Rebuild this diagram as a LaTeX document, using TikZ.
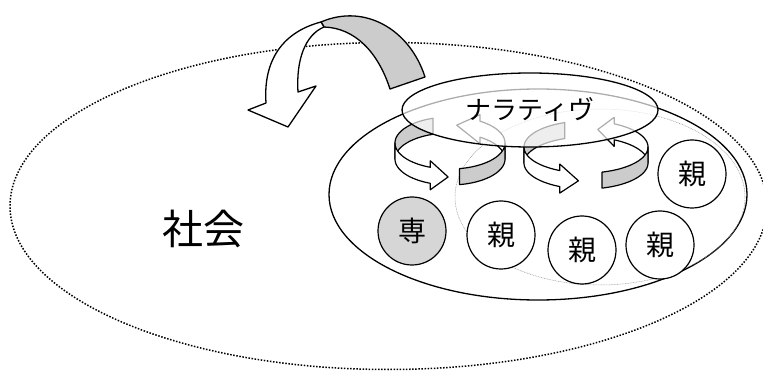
\documentclass[tikz,border=0pt]{standalone}
\usepackage{fontspec}
\newfontfamily\jp{Noto Sans CJK JP}
\usetikzlibrary{shapes.geometric}
\definecolor{bandfill}{gray}{0.80}
\definecolor{profill}{gray}{0.84}
% ring arrow: #1,#2 centre; #3 horizontal radius; #4 tail of front arrow (back side);
% #5 head base, #6 tip of front arrow; #7 tail of back arrow (front side); #8 head base, #9 tip of back arrow
\newcommand{\RingArrow}[9]{%
\begin{scope}[shift={(#1,#2)}]
 \filldraw[bandgray] plot[domain=#4:180,samples=30,variable=\t] ({#3*cos(\t)},{26*sin(\t)})
   -- plot[domain=180:#4,samples=30,variable=\t] ({#3*cos(\t)},{26*sin(\t)+16}) -- cycle;
 \filldraw[bandwhite] plot[domain=360:#8,samples=30,variable=\t] ({#3*cos(\t)},{26*sin(\t)})
   -- ({#3*cos(#8)},{26*sin(#8)-6.5}) -- ({#3*cos(#9)},{26*sin(#9)+8})
   -- ({#3*cos(#8)},{26*sin(#8)+22.5})
   -- plot[domain=#8:360,samples=30,variable=\t] ({#3*cos(\t)},{26*sin(\t)+16}) -- cycle;
 \filldraw[bandwhite] plot[domain=180:#5,samples=30,variable=\t] ({#3*cos(\t)},{26*sin(\t)})
   -- ({#3*cos(#5)},{26*sin(#5)-6.5}) -- ({#3*cos(#6)},{26*sin(#6)+8})
   -- ({#3*cos(#5)},{26*sin(#5)+22.5})
   -- plot[domain=#5:180,samples=30,variable=\t] ({#3*cos(\t)},{26*sin(\t)+16}) -- cycle;
 \filldraw[bandgray] plot[domain=#7:0,samples=30,variable=\t] ({#3*cos(\t)},{26*sin(\t)})
   -- plot[domain=0:#7,samples=30,variable=\t] ({#3*cos(\t)},{26*sin(\t)+16}) -- cycle;
\end{scope}}
\begin{document}
\begin{tikzpicture}[x=1pt,y=-1pt,
  ringline/.style={draw=black, line width=1.2pt, line join=round},
  bandgray/.style={ringline, fill=bandfill},
  bandwhite/.style={ringline, fill=white},
  member/.style={circle, draw=black, line width=1.2pt, fill=white, minimum size=68pt,
     inner sep=0pt, font=\jp\fontsize{28}{28}\selectfont},
  pro/.style={member, fill=profill},
  society/.style={draw=black, line width=1.5pt, dash pattern=on 1.5pt off 1.6pt},
  groupline/.style={draw=black, line width=1.3pt},
  thinline/.style={draw=gray!85, line width=0.5pt, dash pattern=on 0.8pt off 0.8pt},
  narrbox/.style={ellipse, draw=black, line width=1.3pt, fill=white, fill opacity=0.68,
     text opacity=1, minimum width=256pt, minimum height=74pt, inner sep=0pt,
     font=\jp\fontsize{26}{26}\selectfont},
]
\useasboundingbox (0,0) rectangle (763,371);
% society
\draw[society] (388.5,206) ellipse [x radius=378.5pt, y radius=163.5pt];
\node[font=\jp\fontsize{41}{41}\selectfont] (soc) at (203,229) {社会};
% big curved arrow
\filldraw[bandgray, line width=1.3pt] (321,22) .. controls (365,3) and (410,30) .. (425,77)
   -- (390,89) .. controls (378,52) and (355,28) .. (324,27) -- cycle;
\filldraw[bandwhite, line width=1.3pt] (321,22) .. controls (283,32) and (263,60) .. (266,103)
   -- (248,110) -- (288,127) -- (316,86) -- (298,92)
   .. controls (296,60) and (305,35) .. (324,27) -- cycle;
% group ellipse and inner parents ellipse
\draw[groupline] (538,194.5) ellipse [x radius=209pt, y radius=105.5pt];
\draw[thinline] (600,197) ellipse [x radius=145pt, y radius=88pt];
% members
\node[pro] (sen) at (412,231) {専};
\node[member] (oya1) at (501,235) {親};
\node[member] (oya2) at (582,250) {親};
\node[member] (oya3) at (660,245) {親};
\node[member] (oya4) at (692,174) {親};
% rotating ring arrows
\RingArrow{450}{143}{55}{252}{111}{92}{80}{303}{277}
\RingArrow{586}{147}{62}{250}{115}{97}{75}{297}{281}
% narrative
\node[narrbox] (narr) at (530,110) {ナラティヴ};
\end{tikzpicture}
\end{document}
